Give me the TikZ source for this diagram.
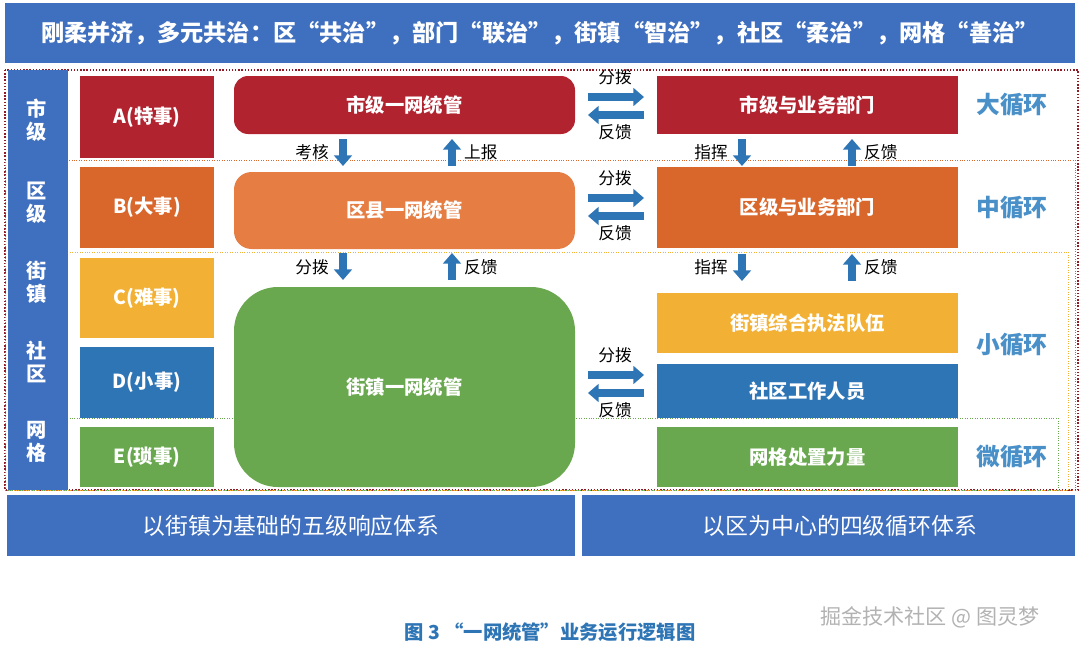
\documentclass[tikz,border=0pt]{standalone}
\usepackage{fontspec}
\setmainfont{Noto Sans CJK SC}
\usetikzlibrary{calc,arrows.meta}
\definecolor{cred}{HTML}{B22330}
\definecolor{corg}{HTML}{D9662A}
\definecolor{corl}{HTML}{E67D43}
\definecolor{cyel}{HTML}{F2B134}
\definecolor{cblu}{HTML}{2E75B6}
\definecolor{cgrn}{HTML}{6AA84F}
\definecolor{cbar}{HTML}{3F6FBF}
\definecolor{cloop}{HTML}{4A90C8}
\newcommand{\blk}[7]{%
  \fill[#6] (#2,#3) rectangle (#4,#5);
  \node[boxtxt] (#1) at ($(#2,#3)!.5!(#4,#5)$) {#7};}
\newcommand{\rblk}[8]{%
  \fill[#6,rounded corners=#8] (#2,#3) rectangle (#4,#5);
  \node[boxtxt] (#1) at ($(#2,#3)!.5!(#4,#5)$) {#7};}
\begin{document}
\begin{tikzpicture}[x=0.02cm,y=-0.02cm,
  boxtxt/.style={text=white,font=\bfseries\fontsize{11}{13}\selectfont},
  lbl/.style={font=\fontsize{9.5}{11}\selectfont},
  loop/.style={text=cloop,font=\bfseries\fontsize{13.5}{15}\selectfont},
  blkarr/.style={cblu,line width=4pt,-{Triangle[length=6pt,width=10pt]}},
  lvl/.style={text=white,font=\bfseries\fontsize{11.5}{13}\selectfont,align=center}]
\useasboundingbox (0,0) rectangle (1080,650);

% banner
\fill[cbar] (5,3) rectangle (1075,63);
\node[text=white,font=\bfseries\fontsize{13.2}{15}\selectfont] (title) at (540,33)
  {刚柔并济，多元共治：区“共治”，部门“联治”，街镇“智治”，社区“柔治”，网格“善治”};

% dotted loop frames
\draw[cred!80!black,densely dotted,thick] (5,70) rectangle (1078,490);
\draw[corg,densely dotted] (5,160) rectangle (1075,490);
\draw[cyel,densely dotted] (8,252) rectangle (1068,490);
\draw[cgrn,densely dotted] (8,418) rectangle (1058,490);

% levels
\fill[cbar] (8,70) rectangle (68,490);
\node[lvl] (shi) at (37,120) {市\\级};
\node[lvl] (qu) at (37,203) {区\\级};
\node[lvl] (jie) at (37,282) {街\\镇};
\node[lvl] (she) at (37,362) {社\\区};
\node[lvl] (wang) at (37,442) {网\\格};

% event classes
\blk{ea}{80}{76}{214}{158}{cred}{A(特事)}
\blk{eb}{80}{167}{214}{248}{corg}{B(大事)}
\blk{ec}{80}{258}{214}{338}{cyel}{C(难事)}
\blk{ed}{80}{347}{214}{418}{cblu}{D(小事)}
\blk{ee}{80}{427}{214}{487}{cgrn}{E(琐事)}

% platforms
\rblk{pshi}{234}{76}{575}{134}{cred}{市级一网统管}{8pt}
\rblk{pqu}{234}{172}{575}{249}{corl}{区县一网统管}{10pt}
\rblk{pjie}{234}{287}{575}{487}{cgrn}{街镇一网统管}{25pt}

% departments
\blk{dshi}{657}{76}{958}{134}{cred}{市级与业务部门}
\blk{dqu}{657}{167}{958}{248}{corg}{区级与业务部门}
\blk{djie}{657}{293}{958}{353}{cyel}{街镇综合执法队伍}
\blk{dshe}{657}{364}{958}{418}{cblu}{社区工作人员}
\blk{dwang}{657}{427}{958}{487}{cgrn}{网格处置力量}

% loops
\node[loop] (l1) at (1012,105) {大循环};
\node[loop] (l2) at (1012,208) {中循环};
\node[loop] (l3) at (1012,345) {小循环};
\node[loop] (l4) at (1012,457) {微循环};

% horizontal arrows
\foreach \y/\n in {97/a,198/b,375/c}{
  \draw[blkarr] (588,\y) -- (644,\y);
  \draw[blkarr] (644,\y+18) -- (588,\y+18);
  \node[lbl] (fb\n) at (615,\y-20) {分拨};
  \node[lbl] (fk\n) at (615,\y+35) {反馈};
}

% vertical arrows
\draw[blkarr] (343,139) -- (343,166);
\node[lbl,left] (kh) at (335,152) {考核};
\draw[blkarr] (452,166) -- (452,139);
\node[lbl,right] (sb) at (458,152) {上报};
\draw[blkarr] (343,253) -- (343,280);
\node[lbl,left] (fb2) at (335,267) {分拨};
\draw[blkarr] (452,280) -- (452,253);
\node[lbl,right] (fk2) at (458,267) {反馈};
\foreach \y in {139,254}{
  \draw[blkarr] (742,\y) -- (742,\y+27);
  \node[lbl,left] at (734,\y+13) {指挥};
  \draw[blkarr] (852,\y+27) -- (852,\y);
  \node[lbl,right] at (858,\y+13) {反馈};
}

% bottom bars
\fill[cbar] (7,495) rectangle (575,556);
\node[text=white,font=\fontsize{13}{15}\selectfont] (b1) at (291,526) {以街镇为基础的五级响应体系};
\fill[cbar] (582,495) rectangle (1075,556);
\node[text=white,font=\fontsize{13}{15}\selectfont] (b2) at (840,526) {以区为中心的四级循环体系};

% caption
\node[text=cblu,font=\bfseries\fontsize{11}{13}\selectfont] (cap) at (550,632) {图 3 “一网统管”业务运行逻辑图};
\node[text=gray!60,font=\fontsize{12}{14}\selectfont] (wm) at (930,617) {掘金技术社区 @ 图灵梦};
\end{tikzpicture}
\end{document}
